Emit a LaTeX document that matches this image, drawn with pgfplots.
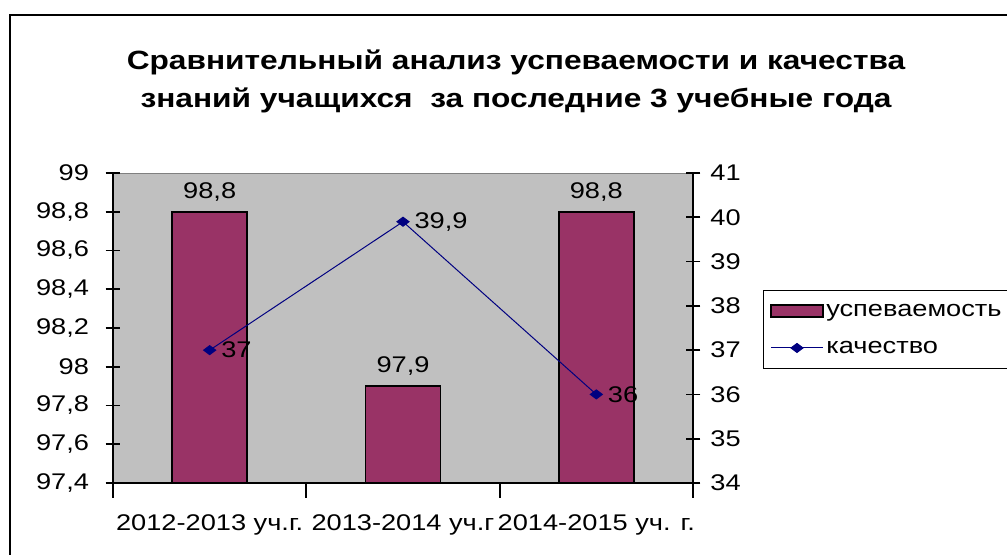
\documentclass[border=0pt]{standalone}
\usepackage{fontspec}
\setmainfont{Liberation Sans}
\newfontfamily\wide[FakeStretch=1.2]{Liberation Sans}
\usepackage{pgfplots}
\pgfplotsset{compat=1.18}
\definecolor{barcol}{HTML}{993366}
\definecolor{bgcol}{HTML}{C0C0C0}
\definecolor{navy}{HTML}{000080}
\newcommand{\tf}{\wide\fontsize{17}{20}\selectfont}
\pgfplotsset{
  /pgf/number format/assume math mode=true,
  common/.style={
    at={(84.75pt,53.25pt)}, anchor=south west,
    width=435pt, height=232.5pt, scale only axis,
    xmin=-0.5, xmax=2.5,
    tick align=center,
    major tick length=11pt, minor tick length=11pt,
    every tick/.style={black, line width=1.3pt},
    axis line style={line width=1.5pt},
    tick label style={font=\tf},
  }
}
\begin{document}
\begin{tikzpicture}
\path[use as bounding box] (0,0) rectangle (755.25pt,415.5pt);
\draw[line width=1.5pt] (7.5pt,-2pt) -- (7.5pt,404.25pt) -- (760pt,404.25pt);
\node[font=\wide\bfseries\fontsize{19.8}{28.5}\selectfont, align=center] at (387pt,354.75pt)
  {Сравнительный анализ успеваемости и качества\\знаний учащихся\ \ за последние 3 учебные года};

\begin{axis}[
  common,
  ymin=97.4, ymax=99,
  ytick={97.4,97.6,97.8,98,98.2,98.4,98.6,98.8,99},
  axis x line*=bottom, axis y line*=left,
  axis background/.style={fill=bgcol, draw=gray},
  xtick={0,1,2},
  xticklabels={2012-2013 уч.г.,2013-2014 уч.г,2014-2015 уч. г.},
  major x tick style={draw=none},
  minor xtick={-0.5,0.5,1.5,2.5},
  yticklabel style={xshift=-9pt, /pgf/number format/.cd, use comma, fixed, precision=1},
  xticklabel style={yshift=-9pt},
  ybar, bar width=56.25pt,
  nodes near coords={\pgfmathprintnumber[use comma,fixed,precision=1]{\pgfplotspointmeta}},
  every node near coord/.append style={font=\tf, black, anchor=south, yshift=4pt},
]
\addplot[fill=barcol, draw=black, line width=1.2pt] coordinates {(0,98.8) (1,97.9) (2,98.8)};
\end{axis}

\begin{axis}[
  common,
  ymin=34, ymax=41,
  ytick={34,35,36,37,38,39,40,41},
  yticklabel style={xshift=4pt},
  axis y line*=right, axis x line=none,
  legend style={at={(1.1207,0.6226)}, anchor=north west, draw=black, line width=1pt,
    fill=white, font=\tf, row sep=13pt, inner xsep=5pt, inner ysep=8pt},
  legend cell align=left,
]
\addlegendimage{legend image code/.code={\draw[fill=barcol,draw=black,line width=1pt] (0pt,-4.5pt) rectangle (39pt,4.5pt);}}
\addlegendentry{успеваемость}
\addplot[navy, line width=0.75pt, mark=diamond*, mark size=4.5pt, mark options={rotate=90, fill=navy},
  nodes near coords={\pgfmathprintnumber[use comma,fixed,precision=1]{\pgfplotspointmeta}},
  every node near coord/.append style={font=\tf, anchor=west, xshift=5pt, black},
  legend image code/.code={\draw[navy, line width=0.75pt, mark=diamond*, mark size=4.5pt, mark options={rotate=90, fill=navy}, mark repeat=2, mark phase=2] plot coordinates {(0pt,0pt)(19.5pt,0pt)(39pt,0pt)};}
] coordinates {(0,37) (1,39.9) (2,36)};
\addlegendentry{качество}
\end{axis}
\end{tikzpicture}
\end{document}
